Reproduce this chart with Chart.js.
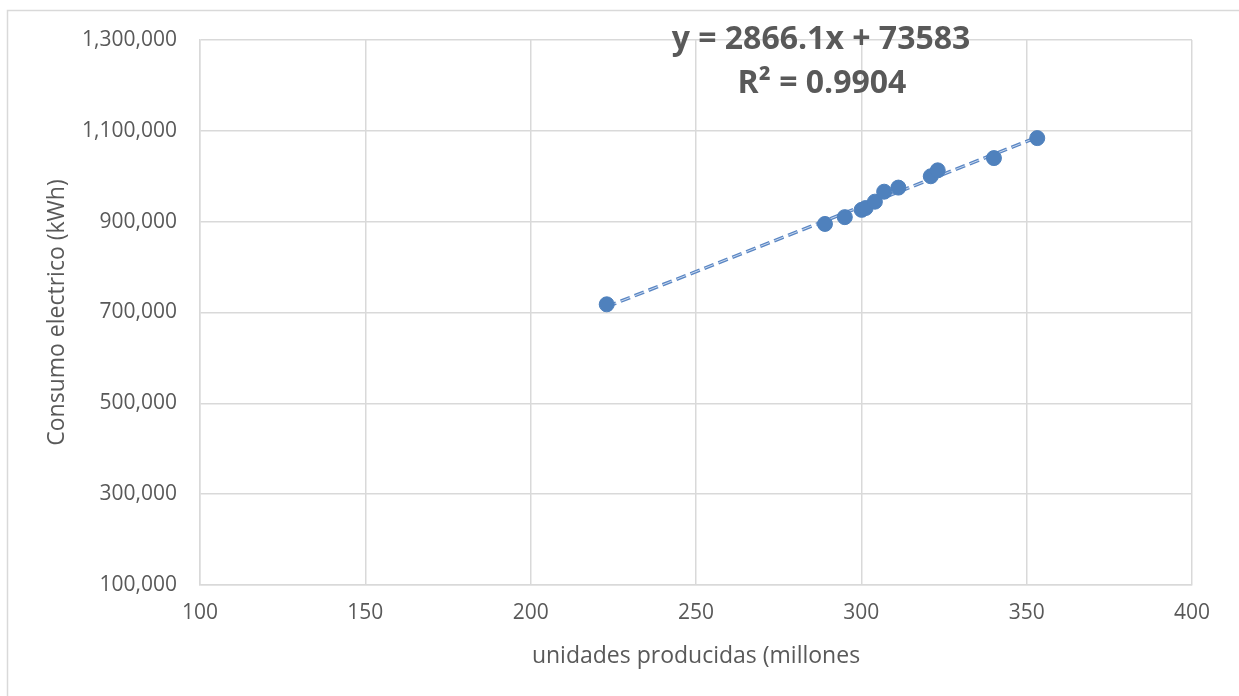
<!DOCTYPE html>
<html>
<head>
<meta charset="utf-8">
<script src="https://cdn.jsdelivr.net/npm/chart.js@4"></script>
<style>
  html, body { margin: 0; padding: 0; background: #fff; }
  #wrap { width: 1239px; height: 696px; position: relative; }
</style>
</head>
<body>
<div id="wrap"><canvas id="chart" width="1239" height="696"></canvas></div>
<script>
// units produced (millions) and electricity use (kWh)
const unidades = [223, 289, 295, 300.1, 301.3, 304.1, 306.9, 311.2, 321, 323.1, 340.1, 353.2];
const consumo = [718000, 895000, 910000, 926000, 930000, 944000, 966000, 975000, 1000000, 1013000, 1040000, 1084000];

// trend line ends (y = 2866.1x + 73583)
const trendX = [223, 353.2];
const trendY = [712700, 1085900];

const xTicks = [100, 150, 200, 250, 300, 350, 400];
const yTicks = [100000, 300000, 500000, 700000, 900000, 1100000, 1300000];

const eqLines = ['y = 2866.1x + 73583', 'R² = 0.9904'];

const blue = '#4f81bd';
const textGray = '#595959';
const gridGray = '#d9d9d9';
const fontFam = '"Open Sans", "DejaVu Sans", sans-serif';

const points = unidades.map((x, i) => ({ x: x, y: consumo[i] }));
const trend = trendX.map((x, i) => ({ x: x, y: trendY[i] }));

// outer frame + equation text
const extras = {
  id: 'extras',
  beforeDraw(chart) {
    const ctx = chart.ctx;
    ctx.save();
    ctx.fillStyle = '#fff';
    ctx.fillRect(0, 0, chart.width, chart.height);
    ctx.strokeStyle = gridGray;
    ctx.lineWidth = 1.5;
    ctx.beginPath();
    ctx.moveTo(7.5, chart.height + 2);
    ctx.lineTo(7.5, 10.5);
    ctx.lineTo(chart.width + 2, 10.5);
    ctx.stroke();
    ctx.restore();
  },
  afterDraw(chart) {
    const ctx = chart.ctx;
    ctx.save();
    ctx.fillStyle = textGray;
    ctx.font = 'bold 32px ' + fontFam;
    ctx.textAlign = 'center';
    ctx.textBaseline = 'middle';
    ctx.fillText(eqLines[0], 821, 40);
    ctx.fillText(eqLines[1], 822, 84);
    ctx.restore();
  }
};

new Chart(document.getElementById('chart'), {
  type: 'scatter',
  data: {
    datasets: [
      {
        label: 'Consumo',
        data: points,
        backgroundColor: blue,
        borderColor: blue,
        pointRadius: 7.5,
        pointHoverRadius: 7.5,
        showLine: false
      },
      {
        label: 'Tendencia (centro)',
        data: trend,
        showLine: true,
        borderColor: '#c9d8ee',
        borderWidth: 1,
        borderDash: [10, 5],
        pointRadius: 0,
        fill: false
      },
      {
        label: 'Tendencia',
        data: trend,
        showLine: true,
        borderColor: '#5b87c4',
        borderWidth: 3.5,
        borderDash: [10, 5],
        pointRadius: 0,
        fill: false
      }
    ]
  },
  options: {
    responsive: false,
    animation: false,
    layout: { padding: { left: 0, top: 40, right: 47, bottom: 0 } },
    plugins: {
      legend: { display: false },
      tooltip: { enabled: false }
    },
    scales: {
      x: {
        type: 'linear',
        min: 100,
        max: 400,
        afterBuildTicks: (s) => { s.ticks = xTicks.map(v => ({ value: v })); },
        afterFit: (s) => { s.height = 111; },
        grid: { color: gridGray, lineWidth: 1.5, drawTicks: false },
        border: { color: gridGray, width: 1.5 },
        ticks: {
          color: textGray,
          font: { family: fontFam, size: 21 },
          padding: 15,
          maxRotation: 0
        },
        title: {
          display: true,
          text: 'unidades producidas (millones',
          color: textGray,
          font: { family: fontFam, size: 23 },
          padding: { top: 0, bottom: 26 }
        }
      },
      y: {
        type: 'linear',
        min: 100000,
        max: 1300000,
        afterBuildTicks: (s) => { s.ticks = yTicks.map(v => ({ value: v })); },
        afterFit: (s) => { s.width = 200; },
        grid: { color: gridGray, lineWidth: 1.5, drawTicks: false },
        border: { color: gridGray, width: 1.5 },
        ticks: {
          color: textGray,
          font: { family: fontFam, size: 21 },
          padding: 23,
          callback: (v) => v.toLocaleString('en-US')
        },
        title: {
          display: true,
          text: 'Consumo electrico (kWh)',
          color: textGray,
          font: { family: fontFam, size: 23 },
          padding: { top: 44, bottom: 0 }
        }
      }
    }
  },
  plugins: [extras]
});
</script>
</body>
</html>
